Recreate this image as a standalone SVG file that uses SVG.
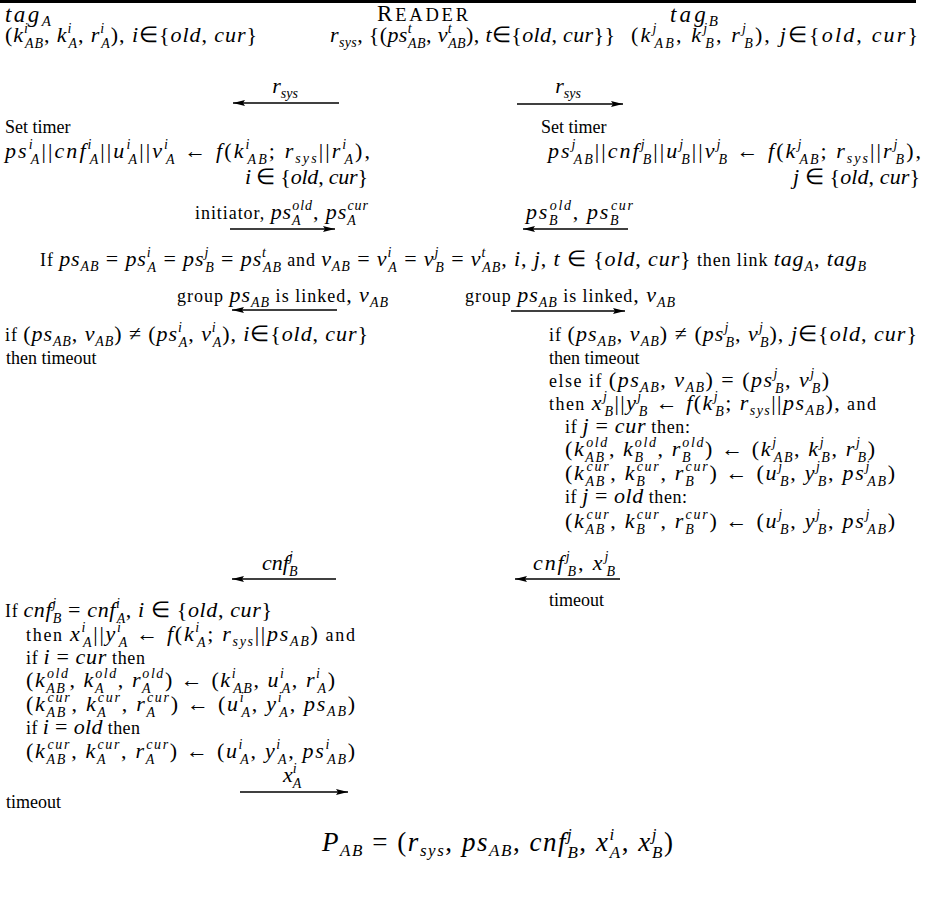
<svg xmlns="http://www.w3.org/2000/svg" width="938" height="918" viewBox="0 0 938 918">
<defs>
<style>
text{font-family:"Liberation Serif","Times New Roman",serif;font-size:18px;fill:#000}
.m{font-style:italic;font-size:22px}
.u{font-style:normal}
.w{font-style:normal;font-size:18px}
.sb{font-size:14px;baseline-shift:-6px}
.s1{font-size:14px;baseline-shift:-4.5px}
.sp{font-size:14px;baseline-shift:9.5px}
.arr{stroke:#000;stroke-width:1.3;fill:none;marker-end:url(#ah)}
</style>
<marker id="ah" viewBox="0 0 12 6" refX="12" refY="3" markerWidth="12" markerHeight="6" markerUnits="userSpaceOnUse" orient="auto"><path d="M0,0 L12,3 L0,6 L2,3 z" fill="#000"/></marker>
</defs>
<rect x="0" y="0" width="916" height="3" fill="#000"/>

<g id="tagA">
<text class="m" x="5" y="22" style="font-size:23px" textLength="46">tag<tspan class="s1" style="font-size:15px;baseline-shift:-3.5px">A</tspan></text>
<text class="m" x="5" y="42" textLength="252"><tspan class="u">(</tspan>k<tspan class="sp">i</tspan><tspan class="sb" dx="-3.9">AB</tspan><tspan class="u">, </tspan>k<tspan class="sp">i</tspan><tspan class="sb" dx="-3.9">A</tspan><tspan class="u">, </tspan>r<tspan class="sp">i</tspan><tspan class="sb" dx="-3.9">A</tspan><tspan class="u">), </tspan>i<tspan class="u">∈{</tspan>old<tspan class="u">, </tspan>cur<tspan class="u">}</tspan></text>
<text x="5" y="133">Set timer</text>
<text class="m" x="5" y="158" textLength="365">ps<tspan class="sp">i</tspan><tspan class="sb" dx="-3.9">A</tspan><tspan class="u">||</tspan>cnf<tspan class="sp">i</tspan><tspan class="sb" dx="-3.9">A</tspan><tspan class="u">||</tspan>u<tspan class="sp">i</tspan><tspan class="sb" dx="-3.9">A</tspan><tspan class="u">||</tspan>v<tspan class="sp">i</tspan><tspan class="sb" dx="-3.9">A</tspan><tspan class="u"> ← </tspan>f<tspan class="u">(</tspan>k<tspan class="sp">i</tspan><tspan class="sb" dx="-3.9">AB</tspan><tspan class="u">; </tspan>r<tspan class="s1">sys</tspan><tspan class="u">||</tspan>r<tspan class="sp">i</tspan><tspan class="sb" dx="-3.9">A</tspan><tspan class="u">),</tspan></text>
<text class="m" x="245" y="184" textLength="123">i<tspan class="u"> ∈ {</tspan>old<tspan class="u">, </tspan>cur<tspan class="u">}</tspan></text>
<text class="m" x="5" y="341" textLength="363"><tspan class="w">if </tspan><tspan class="u">(</tspan>ps<tspan class="s1">AB</tspan><tspan class="u">, </tspan>v<tspan class="s1">AB</tspan><tspan class="u">) ≠ (</tspan>ps<tspan class="sp">i</tspan><tspan class="sb" dx="-3.9">A</tspan><tspan class="u">, </tspan>v<tspan class="sp">i</tspan><tspan class="sb" dx="-3.9">A</tspan><tspan class="u">), </tspan>i<tspan class="u">∈{</tspan>old<tspan class="u">, </tspan>cur<tspan class="u">}</tspan></text>
<text x="6" y="364">then timeout</text>
<text class="m" x="5" y="617" textLength="267"><tspan class="w">If </tspan>cnf<tspan class="sp">j</tspan><tspan class="sb" dx="-3.9">B</tspan><tspan class="u"> = </tspan>cnf<tspan class="sp">i</tspan><tspan class="sb" dx="-3.9">A</tspan><tspan class="u">, </tspan>i<tspan class="u"> ∈ {</tspan>old<tspan class="u">, </tspan>cur<tspan class="u">}</tspan></text>
<text class="m" x="26" y="641" textLength="329"><tspan class="w">then </tspan>x<tspan class="sp">i</tspan><tspan class="sb" dx="-3.9">A</tspan><tspan class="u">||</tspan>y<tspan class="sp">i</tspan><tspan class="sb" dx="-3.9">A</tspan><tspan class="u"> ← </tspan>f<tspan class="u">(</tspan>k<tspan class="sp">i</tspan><tspan class="sb" dx="-3.9">A</tspan><tspan class="u">; </tspan>r<tspan class="s1">sys</tspan><tspan class="u">||</tspan>ps<tspan class="s1">AB</tspan><tspan class="u">)</tspan><tspan class="w"> and</tspan></text>
<text class="m" x="26" y="664" textLength="119"><tspan class="w">if </tspan>i<tspan class="u"> = </tspan>cur<tspan class="w"> then</tspan></text>
<text class="m" x="26" y="687" textLength="309"><tspan class="u">(</tspan>k<tspan class="sb">AB</tspan><tspan class="sp" dx="-19.5">old</tspan><tspan class="u">, </tspan>k<tspan class="sb">A</tspan><tspan class="sp" dx="-9.8">old</tspan><tspan class="u">, </tspan>r<tspan class="sb">A</tspan><tspan class="sp" dx="-9.8">old</tspan><tspan class="u">) ← (</tspan>k<tspan class="sp">i</tspan><tspan class="sb" dx="-3.9">AB</tspan><tspan class="u">, </tspan>u<tspan class="sp">i</tspan><tspan class="sb" dx="-3.9">A</tspan><tspan class="u">, </tspan>r<tspan class="sp">i</tspan><tspan class="sb" dx="-3.9">A</tspan><tspan class="u">)</tspan></text>
<text class="m" x="26" y="711" textLength="329"><tspan class="u">(</tspan>k<tspan class="sb">AB</tspan><tspan class="sp" dx="-19.5">cur</tspan><tspan class="u">, </tspan>k<tspan class="sb">A</tspan><tspan class="sp" dx="-9.8">cur</tspan><tspan class="u">, </tspan>r<tspan class="sb">A</tspan><tspan class="sp" dx="-9.8">cur</tspan><tspan class="u">) ← (</tspan>u<tspan class="sp">i</tspan><tspan class="sb" dx="-3.9">A</tspan><tspan class="u">, </tspan>y<tspan class="sp">i</tspan><tspan class="sb" dx="-3.9">A</tspan><tspan class="u">, </tspan>ps<tspan class="s1">AB</tspan><tspan class="u">)</tspan></text>
<text class="m" x="26" y="734" textLength="114"><tspan class="w">if </tspan>i<tspan class="u"> = </tspan>old<tspan class="w"> then</tspan></text>
<text class="m" x="26" y="758" textLength="329"><tspan class="u">(</tspan>k<tspan class="sb">AB</tspan><tspan class="sp" dx="-19.5">cur</tspan><tspan class="u">, </tspan>k<tspan class="sb">A</tspan><tspan class="sp" dx="-9.8">cur</tspan><tspan class="u">, </tspan>r<tspan class="sb">A</tspan><tspan class="sp" dx="-9.8">cur</tspan><tspan class="u">) ← (</tspan>u<tspan class="sp">i</tspan><tspan class="sb" dx="-3.9">A</tspan><tspan class="u">, </tspan>y<tspan class="sp">i</tspan><tspan class="sb" dx="-3.9">A</tspan><tspan class="u">, </tspan>ps<tspan class="sp">i</tspan><tspan class="sb" dx="-3.9">AB</tspan><tspan class="u">)</tspan></text>
<text x="6" y="808">timeout</text>
</g>

<g id="reader">
<text x="377" y="21" textLength="91"><tspan style="font-size:23px">R</tspan><tspan style="font-size:18.5px">EADER</tspan></text>
<text class="m" x="330" y="42" textLength="285">r<tspan class="s1">sys</tspan><tspan class="u">, {(</tspan>ps<tspan class="sp">t</tspan><tspan class="sb" dx="-3.9">AB</tspan><tspan class="u">, </tspan>v<tspan class="sp">t</tspan><tspan class="sb" dx="-3.9">AB</tspan><tspan class="u">), </tspan>t<tspan class="u">∈{</tspan>old<tspan class="u">, </tspan>cur<tspan class="u">}}</tspan></text>
<text class="m" x="40" y="266" textLength="826"><tspan class="w">If </tspan>ps<tspan class="s1">AB</tspan><tspan class="u"> = </tspan>ps<tspan class="sp">i</tspan><tspan class="sb" dx="-3.9">A</tspan><tspan class="u"> = </tspan>ps<tspan class="sp">j</tspan><tspan class="sb" dx="-3.9">B</tspan><tspan class="u"> = </tspan>ps<tspan class="sp">t</tspan><tspan class="sb" dx="-3.9">AB</tspan><tspan class="w"> and </tspan>v<tspan class="s1">AB</tspan><tspan class="u"> = </tspan>v<tspan class="sp">i</tspan><tspan class="sb" dx="-3.9">A</tspan><tspan class="u"> = </tspan>v<tspan class="sp">j</tspan><tspan class="sb" dx="-3.9">B</tspan><tspan class="u"> = </tspan>v<tspan class="sp">t</tspan><tspan class="sb" dx="-3.9">AB</tspan><tspan class="u">, </tspan>i<tspan class="u">, </tspan>j<tspan class="u">, </tspan>t<tspan class="u"> ∈ {</tspan>old<tspan class="u">, </tspan>cur<tspan class="u">}</tspan><tspan class="w"> then link </tspan>tag<tspan class="s1">A</tspan><tspan class="u">, </tspan>tag<tspan class="s1">B</tspan></text>
<text class="m" x="322" y="851" style="font-size:27px" textLength="351">P<tspan class="s1" style="font-size:17px;baseline-shift:-5px">AB</tspan><tspan class="u"> = (</tspan>r<tspan class="s1" style="font-size:17px;baseline-shift:-5px">sys</tspan><tspan class="u">, </tspan>ps<tspan class="s1" style="font-size:17px;baseline-shift:-5px">AB</tspan><tspan class="u">, </tspan>cnf<tspan class="sp" style="font-size:17px;baseline-shift:11px">j</tspan><tspan class="sb" style="font-size:17px;baseline-shift:-6.5px" dx="-6">B</tspan><tspan class="u">, </tspan>x<tspan class="sp" style="font-size:17px;baseline-shift:11px">i</tspan><tspan class="sb" style="font-size:17px;baseline-shift:-6.5px" dx="-6">A</tspan><tspan class="u">, </tspan>x<tspan class="sp" style="font-size:17px;baseline-shift:11px">j</tspan><tspan class="sb" style="font-size:17px;baseline-shift:-6.5px" dx="-6">B</tspan><tspan class="u">)</tspan></text>
</g>

<g id="tagB">
<text class="m" x="670" y="22" style="font-size:23px" textLength="48">tag<tspan class="s1" style="font-size:15px;baseline-shift:-3.5px">B</tspan></text>
<text class="m" x="631" y="42" textLength="287"><tspan class="u">(</tspan>k<tspan class="sp">j</tspan><tspan class="sb" dx="-3.9">AB</tspan><tspan class="u">, </tspan>k<tspan class="sp">j</tspan><tspan class="sb" dx="-3.9">B</tspan><tspan class="u">, </tspan>r<tspan class="sp">j</tspan><tspan class="sb" dx="-3.9">B</tspan><tspan class="u">), </tspan>j<tspan class="u">∈{</tspan>old<tspan class="u">, </tspan>cur<tspan class="u">}</tspan></text>
<text x="541" y="133">Set timer</text>
<text class="m" x="548" y="158" textLength="373">ps<tspan class="sp">j</tspan><tspan class="sb" dx="-3.9">AB</tspan><tspan class="u">||</tspan>cnf<tspan class="sp">j</tspan><tspan class="sb" dx="-3.9">B</tspan><tspan class="u">||</tspan>u<tspan class="sp">j</tspan><tspan class="sb" dx="-3.9">B</tspan><tspan class="u">||</tspan>v<tspan class="sp">j</tspan><tspan class="sb" dx="-3.9">B</tspan><tspan class="u"> ← </tspan>f<tspan class="u">(</tspan>k<tspan class="sp">j</tspan><tspan class="sb" dx="-3.9">AB</tspan><tspan class="u">; </tspan>r<tspan class="s1">sys</tspan><tspan class="u">||</tspan>r<tspan class="sp">j</tspan><tspan class="sb" dx="-3.9">B</tspan><tspan class="u">),</tspan></text>
<text class="m" x="793" y="184" textLength="127">j<tspan class="u"> ∈ {</tspan>old<tspan class="u">, </tspan>cur<tspan class="u">}</tspan></text>
<text class="m" x="549" y="341" textLength="368"><tspan class="w">if </tspan><tspan class="u">(</tspan>ps<tspan class="s1">AB</tspan><tspan class="u">, </tspan>v<tspan class="s1">AB</tspan><tspan class="u">) ≠ (</tspan>ps<tspan class="sp">j</tspan><tspan class="sb" dx="-3.9">B</tspan><tspan class="u">, </tspan>v<tspan class="sp">j</tspan><tspan class="sb" dx="-3.9">B</tspan><tspan class="u">), </tspan>j<tspan class="u">∈{</tspan>old<tspan class="u">, </tspan>cur<tspan class="u">}</tspan></text>
<text x="549" y="364">then timeout</text>
<text class="m" x="549" y="387" textLength="280"><tspan class="w">else if </tspan><tspan class="u">(</tspan>ps<tspan class="s1">AB</tspan><tspan class="u">, </tspan>v<tspan class="s1">AB</tspan><tspan class="u">) = (</tspan>ps<tspan class="sp">j</tspan><tspan class="sb" dx="-3.9">B</tspan><tspan class="u">, </tspan>v<tspan class="sp">j</tspan><tspan class="sb" dx="-3.9">B</tspan><tspan class="u">)</tspan></text>
<text class="m" x="549" y="410" textLength="327"><tspan class="w">then </tspan>x<tspan class="sp">j</tspan><tspan class="sb" dx="-3.9">B</tspan><tspan class="u">||</tspan>y<tspan class="sp">j</tspan><tspan class="sb" dx="-3.9">B</tspan><tspan class="u"> ← </tspan>f<tspan class="u">(</tspan>k<tspan class="sp">j</tspan><tspan class="sb" dx="-3.9">B</tspan><tspan class="u">; </tspan>r<tspan class="s1">sys</tspan><tspan class="u">||</tspan>ps<tspan class="s1">AB</tspan><tspan class="u">),</tspan><tspan class="w"> and</tspan></text>
<text class="m" x="565" y="433" textLength="125"><tspan class="w">if </tspan>j<tspan class="u"> = </tspan>cur<tspan class="w"> then:</tspan></text>
<text class="m" x="565" y="456" textLength="310"><tspan class="u">(</tspan>k<tspan class="sb">AB</tspan><tspan class="sp" dx="-19.5">old</tspan><tspan class="u">, </tspan>k<tspan class="sb">B</tspan><tspan class="sp" dx="-9.8">old</tspan><tspan class="u">, </tspan>r<tspan class="sb">B</tspan><tspan class="sp" dx="-9.8">old</tspan><tspan class="u">) ← (</tspan>k<tspan class="sp">j</tspan><tspan class="sb" dx="-3.9">AB</tspan><tspan class="u">, </tspan>k<tspan class="sp">j</tspan><tspan class="sb" dx="-3.9">B</tspan><tspan class="u">, </tspan>r<tspan class="sp">j</tspan><tspan class="sb" dx="-3.9">B</tspan><tspan class="u">)</tspan></text>
<text class="m" x="565" y="480" textLength="330"><tspan class="u">(</tspan>k<tspan class="sb">AB</tspan><tspan class="sp" dx="-19.5">cur</tspan><tspan class="u">, </tspan>k<tspan class="sb">B</tspan><tspan class="sp" dx="-9.8">cur</tspan><tspan class="u">, </tspan>r<tspan class="sb">B</tspan><tspan class="sp" dx="-9.8">cur</tspan><tspan class="u">) ← (</tspan>u<tspan class="sp">j</tspan><tspan class="sb" dx="-3.9">B</tspan><tspan class="u">, </tspan>y<tspan class="sp">j</tspan><tspan class="sb" dx="-3.9">B</tspan><tspan class="u">, </tspan>ps<tspan class="sp">j</tspan><tspan class="sb" dx="-3.9">AB</tspan><tspan class="u">)</tspan></text>
<text class="m" x="565" y="503" textLength="122"><tspan class="w">if </tspan>j<tspan class="u"> = </tspan>old<tspan class="w"> then:</tspan></text>
<text class="m" x="565" y="528" textLength="330"><tspan class="u">(</tspan>k<tspan class="sb">AB</tspan><tspan class="sp" dx="-19.5">cur</tspan><tspan class="u">, </tspan>k<tspan class="sb">B</tspan><tspan class="sp" dx="-9.8">cur</tspan><tspan class="u">, </tspan>r<tspan class="sb">B</tspan><tspan class="sp" dx="-9.8">cur</tspan><tspan class="u">) ← (</tspan>u<tspan class="sp">j</tspan><tspan class="sb" dx="-3.9">B</tspan><tspan class="u">, </tspan>y<tspan class="sp">j</tspan><tspan class="sb" dx="-3.9">B</tspan><tspan class="u">, </tspan>ps<tspan class="sp">j</tspan><tspan class="sb" dx="-3.9">AB</tspan><tspan class="u">)</tspan></text>
<text x="549" y="606">timeout</text>
</g>

<g id="connectors">
<line class="arr" x1="339" y1="103" x2="233" y2="103"/>
<text class="m" x="285" y="93" text-anchor="middle">r<tspan class="s1">sys</tspan></text>
<line class="arr" x1="517" y1="104" x2="623" y2="104"/>
<text class="m" x="568" y="93" text-anchor="middle">r<tspan class="s1">sys</tspan></text>
<line class="arr" x1="230" y1="229" x2="335" y2="229"/>
<text class="m" x="195" y="219" textLength="173"><tspan class="w">initiator, </tspan>ps<tspan class="sb">A</tspan><tspan class="sp" dx="-9.3">old</tspan><tspan class="u">, </tspan>ps<tspan class="sb">A</tspan><tspan class="sp" dx="-9.3">cur</tspan></text>
<line class="arr" x1="628" y1="229" x2="523" y2="229"/>
<text class="m" x="526" y="219" textLength="107">ps<tspan class="sb">B</tspan><tspan class="sp" dx="-9.3">old</tspan><tspan class="u">, </tspan>ps<tspan class="sb">B</tspan><tspan class="sp" dx="-9.3">cur</tspan></text>
<line class="arr" x1="337" y1="310" x2="232" y2="310"/>
<text class="m" x="177" y="302" textLength="211"><tspan class="w">group </tspan>ps<tspan class="s1">AB</tspan><tspan class="w"> is linked</tspan><tspan class="u">, </tspan>v<tspan class="s1">AB</tspan></text>
<line class="arr" x1="511" y1="311" x2="625" y2="311"/>
<text class="m" x="465" y="302" textLength="210"><tspan class="w">group </tspan>ps<tspan class="s1">AB</tspan><tspan class="w"> is linked</tspan><tspan class="u">, </tspan>v<tspan class="s1">AB</tspan></text>
<line class="arr" x1="336" y1="579" x2="232" y2="579"/>
<text class="m" x="262" y="570">cnf<tspan class="sp">j</tspan><tspan class="sb" dx="-3.9">B</tspan></text>
<line class="arr" x1="620" y1="579" x2="515" y2="579"/>
<text class="m" x="533" y="570" textLength="82">cnf<tspan class="sp">j</tspan><tspan class="sb" dx="-3.9">B</tspan><tspan class="u">, </tspan>x<tspan class="sp">j</tspan><tspan class="sb" dx="-3.9">B</tspan></text>
<line class="arr" x1="240" y1="792" x2="348" y2="792"/>
<text class="m" x="283" y="782">x<tspan class="sp">i</tspan><tspan class="sb" dx="-3.9">A</tspan></text>
</g>
</svg>
